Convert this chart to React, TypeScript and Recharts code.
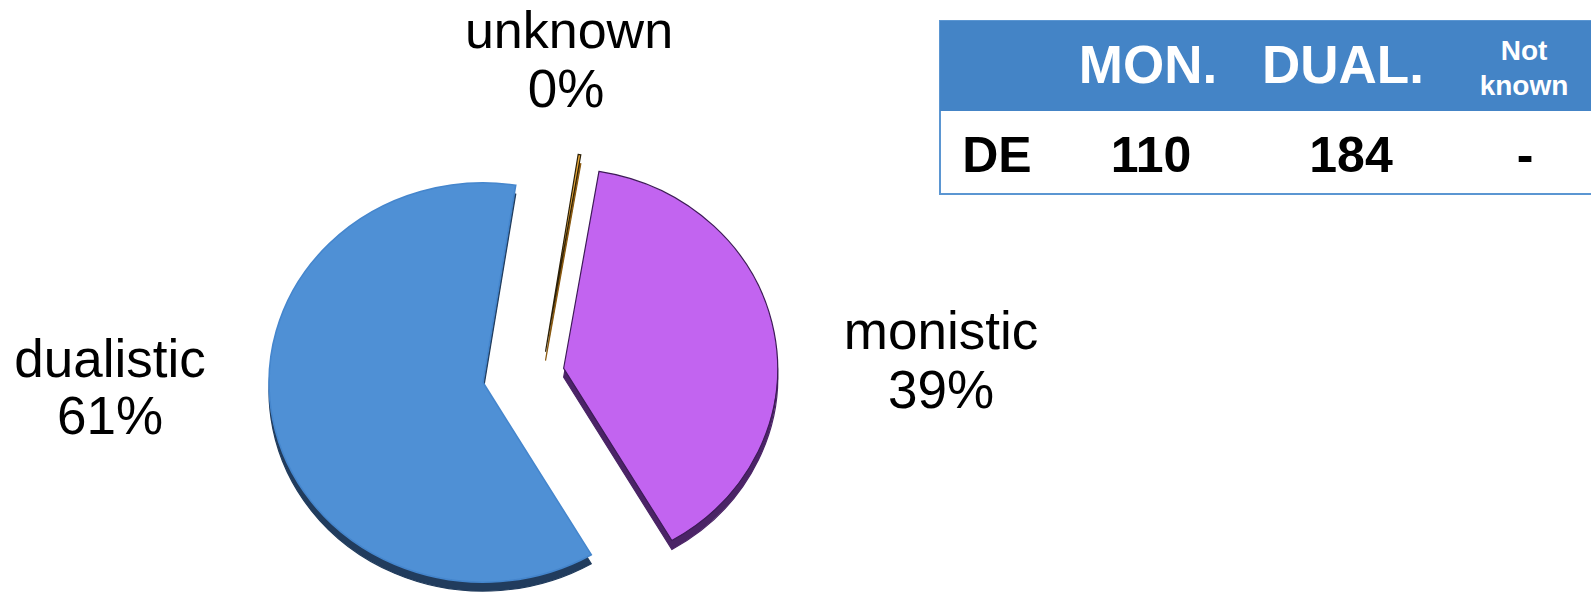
import { PieChart, Pie, Cell } from "recharts";

// values
const categories = ["monistic", "dualistic", "unknown"];
const shares = [39, 61, 0.2]; // unknown is 0% but drawn as a thin sliver
const shareLabels = ["39%", "61%", "0%"];
const tableHeader = ["MON.", "DUAL.", "Not", "known"];
const tableRow = ["DE", "110", "184", "-"];

const data = categories.map((name, i) => ({ name, value: shares[i] }));

// layout
const W = 1591;
const H = 600;
const CX = 542;
const CY = 372;
const R = 214;
const SY = 0.933; // pie is seen slightly tilted
const DEPTH = 9.6;
const START = 9.5; // degrees clockwise from 12 o'clock
const explode = [22, 60, 22];

const topFill = ["#C264F0", "#4F90D5", "#E9A93B"];
const rimFill = ["#4B2466", "#213C5D", "#8A5A12"];
const edge = ["#3D1A57", "#4586CD", "#2B2008"];

const total = shares.reduce((a, b) => a + b, 0);
let acc = 0;
const offsets = shares.map((v, i) => {
  const mid = ((START + ((acc + v / 2) / total) * 360) * Math.PI) / 180;
  acc += v;
  return { dx: explode[i] * Math.sin(mid), dy: -explode[i] * Math.cos(mid) };
});

const font = "'Liberation Sans', Arial, sans-serif";

export default function App() {
  const layers = [true, false].flatMap((rim) =>
    categories.map((c, i) => (
      <Pie
        key={`${c}-${rim ? "rim" : "top"}`}
        data={data}
        dataKey="value"
        cx={CX + offsets[i].dx}
        cy={CY + offsets[i].dy + (rim ? DEPTH : 0)}
        innerRadius={0}
        outerRadius={R}
        startAngle={90 - START}
        endAngle={90 - START - 360}
        isAnimationActive={false}
        label={false}
        labelLine={false}
      >
        {data.map((_, j) => (
          <Cell
            key={j}
            fill={j === i ? (rim ? rimFill[i] : topFill[i]) : "none"}
            stroke={j === i ? (rim ? rimFill[i] : edge[i]) : "none"}
            strokeWidth={j === i ? (i === 1 && !rim ? 1.6 : 1.2) : 0}
          />
        ))}
      </Pie>
    ))
  );

  return (
    <div style={{ position: "absolute", left: 0, top: 0, width: W, height: H, background: "#fff", overflow: "hidden" }}>
      <div style={{ position: "absolute", left: 0, top: 0, width: W, height: 660, transform: `scaleY(${SY})`, transformOrigin: `0 ${CY}px` }}>
        <PieChart width={W} height={660} margin={{ top: 0, right: 0, bottom: 0, left: 0 }}>
          {layers}
        </PieChart>
      </div>
      <svg width={W} height={H} style={{ position: "absolute", left: 0, top: 0 }} fontFamily={font}>
        {/* slice labels */}
        <g fontSize={53} fill="#000" textAnchor="middle">
          <text x={569} y={48} fontSize={52}>{categories[2]}</text>
          <text x={566} y={107}>{shareLabels[2]}</text>
          <text x={941} y={349}>{categories[0]}</text>
          <text x={941} y={408}>{shareLabels[0]}</text>
          <text x={110} y={377}>{categories[1]}</text>
          <text x={110} y={434}>{shareLabels[1]}</text>
        </g>
        {/* counts table */}
        <rect x={940} y={21} width={700} height={173} fill="#fff" stroke="#5B96D2" strokeWidth={2} />
        <rect x={940} y={21} width={700} height={90} fill="#4484C6" />
        <g fill="#fff" fontWeight="bold" textAnchor="middle">
          <text x={1148} y={83} fontSize={53}>{tableHeader[0]}</text>
          <text x={1343} y={83} fontSize={53}>{tableHeader[1]}</text>
          <text x={1524} y={60} fontSize={28}>{tableHeader[2]}</text>
          <text x={1524} y={95} fontSize={28}>{tableHeader[3]}</text>
        </g>
        <g fill="#000" fontWeight="bold" textAnchor="middle" fontSize={50}>
          <text x={997} y={172}>{tableRow[0]}</text>
          <text x={1151} y={172}>{tableRow[1]}</text>
          <text x={1351} y={172}>{tableRow[2]}</text>
          <text x={1525} y={172}>{tableRow[3]}</text>
        </g>
      </svg>
    </div>
  );
}
